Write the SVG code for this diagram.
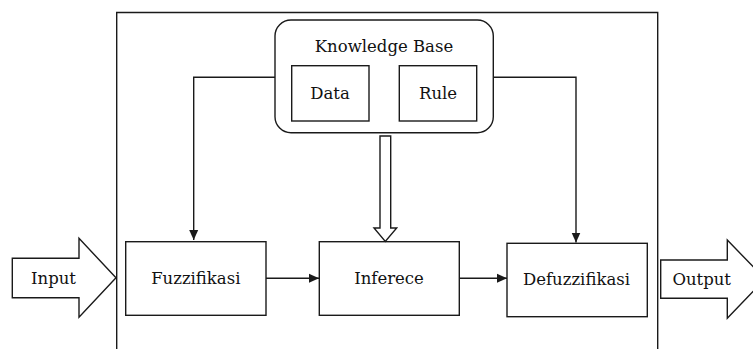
<svg xmlns="http://www.w3.org/2000/svg" width="753" height="349" viewBox="0 0 753 349">
<style>
.b{fill:#fff;stroke:#1a1a1a;stroke-width:1.4}
.l{fill:none;stroke:#1a1a1a;stroke-width:1.4}
text{font-family:'DejaVu Serif',serif;font-size:16.5px;fill:#111;text-anchor:middle}
</style>
<defs>
<marker id="ah" viewBox="0 0 10 10" refX="10" refY="5" markerWidth="10" markerHeight="10" markerUnits="userSpaceOnUse" orient="auto">
<path d="M0,0.5 L10,5 L0,9.5 Z" fill="#1a1a1a"/>
</marker>
</defs>
<rect width="753" height="349" fill="#fff"/>
<g id="frame"><path class="l" d="M116.7,349 V12.5 H657.7 V349"/></g>
<g id="kb">
<rect class="b" x="275" y="20" width="218.3" height="112.7" rx="16"/>
<text x="384" y="51.5">Knowledge Base</text>
</g>
<g id="data"><rect class="b" x="291.7" y="65.7" width="77.3" height="55.3"/><text x="330" y="99">Data</text></g>
<g id="rule"><rect class="b" x="399.3" y="65.7" width="77.4" height="55.3"/><text x="438" y="99">Rule</text></g>
<g id="fuzz"><rect class="b" x="125.7" y="241.7" width="140.3" height="73.6"/><text x="195.8" y="283.5">Fuzzifikasi</text></g>
<g id="inf"><rect class="b" x="319.3" y="241.7" width="140" height="73.6"/><text x="389" y="283.5">Inferece</text></g>
<g id="defuzz"><rect class="b" x="507" y="243.3" width="140.3" height="73.4"/><text x="576.5" y="284.5">Defuzzifikasi</text></g>
<g id="input"><path class="b" d="M12.3,258.3 H79 V238.3 L116,277.8 L79,317.3 V297.7 H12.3 Z"/><text x="53.5" y="283.5">Input</text></g>
<g id="output"><path class="b" d="M660.7,260 H727.3 V240 L765,279 L727.3,318.3 V298.3 H660.7 Z"/><text x="701.7" y="284.5">Output</text></g>
<g id="connectors">
<path class="l" d="M275,77.3 H193.7 V240" marker-end="url(#ah)"/>
<path class="l" d="M493.3,77.3 H576 V242.5" marker-end="url(#ah)"/>
<path class="b" d="M380,136 H390.7 V228 H396.7 L385.3,241.5 L374,228 H380 Z"/>
<path class="l" d="M266,278.3 H319" stroke-width="2.4" marker-end="url(#ah)"/>
<path class="l" d="M459.3,278.3 H507" stroke-width="2.4" marker-end="url(#ah)"/>
</g>
</svg>
